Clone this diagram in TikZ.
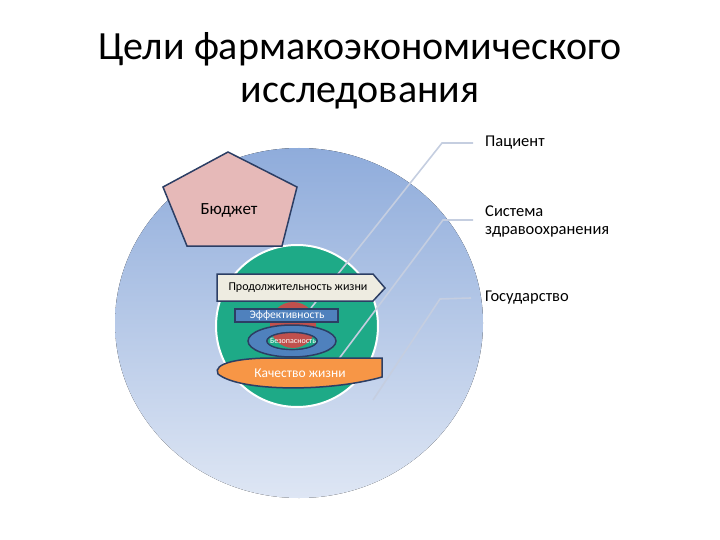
\documentclass[tikz,border=0pt]{standalone}
\usepackage{fontspec}
\setmainfont{Carlito}
\definecolor{outerTop}{RGB}{143,172,219}
\definecolor{outerBot}{RGB}{222,230,244}
\definecolor{greenDisk}{RGB}{30,170,135}
\definecolor{redDisk}{RGB}{192,80,77}
\definecolor{blueBox}{RGB}{79,129,189}
\definecolor{darkEdge}{RGB}{44,62,100}
\definecolor{pinkFill}{RGB}{230,185,184}
\definecolor{beigeFill}{RGB}{238,236,225}
\definecolor{orangeFill}{RGB}{247,150,70}
\definecolor{lineGray}{RGB}{197,206,224}

\begin{document}
\begin{tikzpicture}[
    x=1pt, y=-1pt,
    callout/.style={draw=lineGray, line width=1.6pt},
    sidelabel/.style={anchor=west, align=left, inner sep=0pt, font=\fontsize{16.5}{18}\selectfont},
    titleline/.style={anchor=base, inner sep=0pt, font=\fontsize{40}{44}\selectfont},
    goalbox/.style={draw=darkEdge, line width=1.5pt}
]
    \useasboundingbox (0,0) rectangle (720,540);

    % Title
    \node[titleline] (title1) at (360,60) {Цели фармакоэкономического};
    \node[titleline] (title2) at (360,103) {исследования};

    % Circles
    \fill[top color=outerTop, bottom color=outerBot] (299,323) ellipse [x radius=184, y radius=175];
    \draw[white, line width=2pt, fill=greenDisk] (297,326) circle [radius=81];
    \fill[redDisk] (293,325) circle [radius=23];

    % Callout lines
    \coordinate (patEnd) at (311,308);
    \coordinate (sysEnd) at (338,360);
    \coordinate (govEnd) at (373,400);
    \node[sidelabel] (patient) at (485,143) {Пациент};
    \node[sidelabel] (system) at (485,221) {Система\\здравоохранения};
    \node[sidelabel] (state) at (485,298) {Государство};
    \draw[callout] (patient.west) ++(-12,0) -- (442,143) -- (patEnd);
    \draw[callout] (473,220) -- (443,220) -- (sysEnd);
    \draw[callout] (state.west) ++(-14,0) -- (440,299) -- (govEnd);

    % Budget pentagon
    \draw[goalbox, fill=pinkFill] (228,152) -- (297,187) -- (282,246) -- (187,246) -- (163,187) -- cycle;
    \node[font=\fontsize{17}{18}\selectfont] (budget) at (229,210) {Бюджет};

    % Life span arrow
    \draw[goalbox, fill=beigeFill] (217,274) -- (373,274) -- (385,288) -- (373,301) -- (217,301) -- cycle;
    \node[font=\fontsize{12}{13}\selectfont] (lifespan) at (298,288) {Продолжительность жизни};

    % Efficiency
    \draw[goalbox, fill=blueBox] (235,309) rectangle (338,322);
    \node[white, font=\fontsize{11.5}{12}\selectfont, inner sep=0pt] (efficiency) at (287,315.5) {Эффективность};

    % Safety ring
    \draw[goalbox, fill=blueBox, even odd rule] (292,341) ellipse [x radius=44, y radius=16]
        (292,341) ellipse [x radius=25, y radius=8.5];
    \begin{scope}
        \clip (292,341) ellipse [x radius=25, y radius=8.5];
        \fill[greenDisk] (260,330) rectangle (330,355);
        \fill[redDisk] (293,325) circle [radius=23];
        \node[white, font=\fontsize{8}{9}\selectfont, inner sep=0pt] (safety) at (293,341) {Безопасность};
    \end{scope}
    \draw[darkEdge, line width=1.2pt] (292,341) ellipse [x radius=25, y radius=8.5];

    % Quality of life
    \draw[goalbox, fill=orangeFill] (382,358) -- (382,377) .. controls (330,392) and (240,392) .. (218,374)
        .. controls (212,363) and (240,358) .. (272,358) -- cycle;
    \node[white, font=\fontsize{13.5}{14}\selectfont] (quality) at (300,373) {Качество жизни};
\end{tikzpicture}
\end{document}
